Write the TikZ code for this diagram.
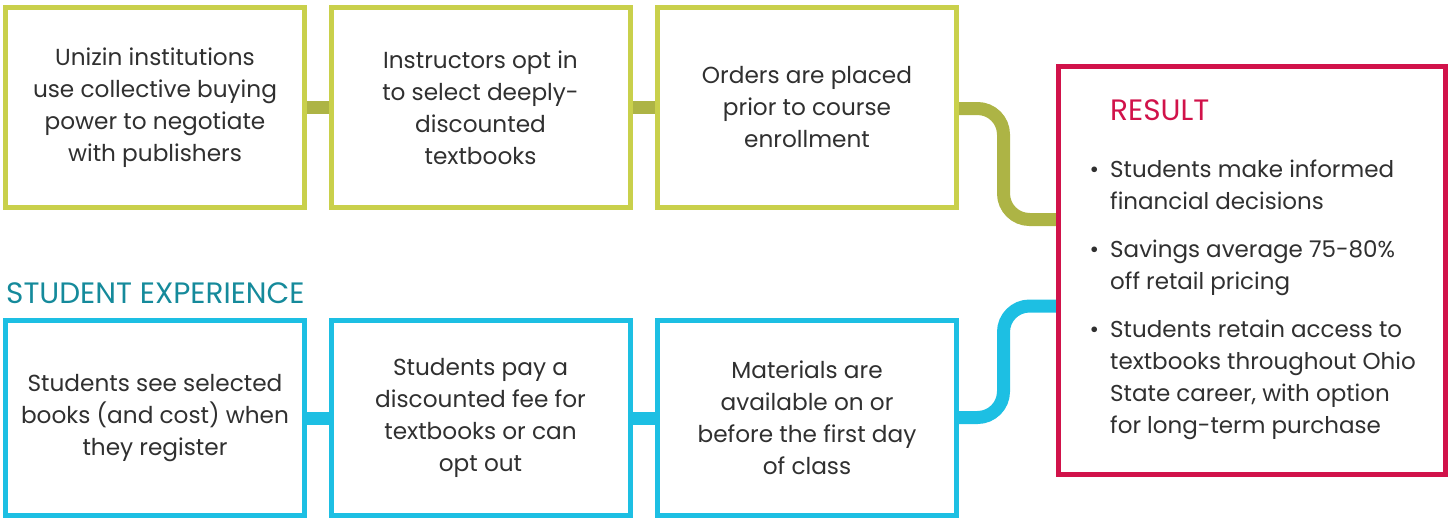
\documentclass[tikz,border=0pt]{standalone}
\usepackage{fontspec}
\setmainfont{Poppins}
\usetikzlibrary{backgrounds}
\definecolor{lime}{HTML}{C9D04B}
\definecolor{olive}{HTML}{ADB445}
\definecolor{sky}{HTML}{1DBFE3}
\definecolor{crim}{HTML}{D1124A}
\definecolor{teal}{HTML}{158A9B}
\definecolor{txt}{HTML}{303030}
\tikzset{
  stepbox/.style={draw, line width=5pt, minimum width=299pt, inner sep=0pt, align=center,
    text=txt, font=\fontsize{23.2}{32}\selectfont, fill=white},
  topbox/.style={stepbox, draw=lime, minimum height=200pt},
  botbox/.style={stepbox, draw=sky, minimum height=195pt},
  gconn/.style={draw=olive, line width=13pt},
  bconn/.style={draw=sky, line width=13pt},
  heading/.style={anchor=base west, inner sep=0pt, font=\fontsize{29.5}{32}\selectfont},
  item/.style={anchor=base west, inner sep=0pt, align=left, text=txt, font=\fontsize{23}{32}\selectfont},
}
\begin{document}
\begin{tikzpicture}[x=1pt,y=-1pt]
\useasboundingbox (0,0) rectangle (1453,520);
\coordinate (g1) at (1003.5,108.5);
\coordinate (g2) at (1003.5,219.5);
\coordinate (s1) at (1003.5,417.5);
\coordinate (s2) at (1003.5,306);
\node[draw=crim, line width=5pt, minimum width=387pt, minimum height=408pt, inner sep=0pt, fill=white] (res) at (1252,270.5) {};
\node[topbox] (b1) at (155,107.5) {Unizin institutions\\use collective buying\\power to negotiate\\with publishers};
\node[topbox] (b2) at (480.5,107.5) {Instructors opt in\\to select deeply-\\discounted\\textbooks};
\node[topbox] (b3) at (807,107.5) {Orders are placed\\prior to course\\enrollment};
\node[botbox] (b4) at (155,418) {Students see selected\\books (and cost) when\\they register};
\node[botbox] (b5) at (480.5,418) {Students pay a\\discounted fee for\\textbooks or can\\opt out};
\node[botbox] (b6) at (807,418) {Materials are\\available on or\\before the first day\\of class};
\begin{scope}[on background layer]
\draw[gconn] (b1.east) -- (b2.west);
\draw[gconn] (b2.east) -- (b3.west);
\draw[bconn] (b4.east) -- (b5.west);
\draw[bconn] (b5.east) -- (b6.west);
\draw[gconn, rounded corners=26pt] (b3.east |- g1) -- (g1) -- (g2) -- (res.west |- g2);
\draw[bconn, rounded corners=26pt] (b6.east |- s1) -- (s1) -- (s2) -- (res.west |- s2);
\end{scope}
\node[heading, text=teal] (se) at (6,303) {STUDENT EXPERIENCE};
\node[heading, text=crim] (rt) at (1110,120) {RESULT};
\node[item] (i1) at (1110,209) {\makebox[0pt][r]{•\hspace{11pt}}Students make informed\\financial decisions};
\node[item] (i2) at (1110,289) {\makebox[0pt][r]{•\hspace{11pt}}Savings average 75-80\%\\off retail pricing};
\node[item] (i3) at (1110,433) {\makebox[0pt][r]{•\hspace{11pt}}Students retain access to\\textbooks throughout Ohio\\State career, with option\\for long-term purchase};
\end{tikzpicture}
\end{document}
